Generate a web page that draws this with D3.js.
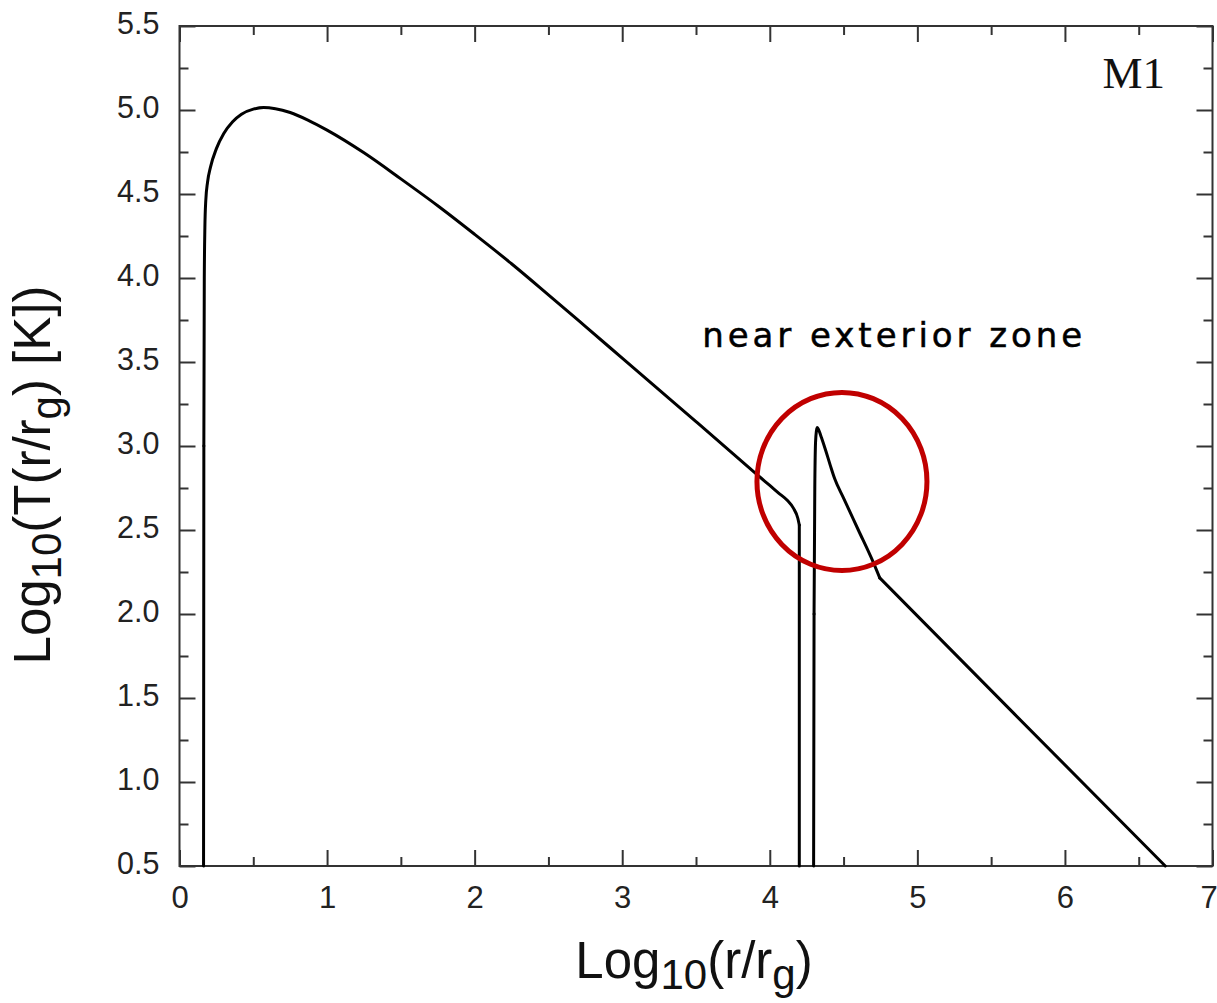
<!DOCTYPE html>
<html>
<head>
<meta charset="utf-8">
<script src="https://cdn.jsdelivr.net/npm/d3@7"></script>
<style>
  body { margin: 0; background: #fff; }
  svg { display: block; }
</style>
</head>
<body>
<svg id="chart" width="1217" height="1003"></svg>
<script>
// Axis ticks
const xMajorTicks = [0, 1, 2, 3, 4, 5, 6, 7];
const xMinorTicks = [0.5, 1.5, 2.5, 3.5, 4.5, 5.5, 6.5];
const yMajorTicks = [0.5, 1.0, 1.5, 2.0, 2.5, 3.0, 3.5, 4.0, 4.5, 5.0, 5.5];
const yMinorTicks = [0.75, 1.25, 1.75, 2.25, 2.75, 3.25, 3.75, 4.25, 4.75, 5.25];

// Inner disk temperature profile: log10(r/rg) vs log10(T)
const innerLogR = [0.163, 0.165, 0.168, 0.172, 0.178, 0.19, 0.21, 0.25, 0.30, 0.36, 0.42, 0.50, 0.57,
  0.65, 0.75, 0.87, 1.00, 1.25, 1.50, 1.75, 2.00, 2.25, 2.50, 2.75, 3.00, 3.25, 3.50, 3.75,
  3.90, 4.00, 4.06, 4.12, 4.16, 4.19, 4.20, 4.20];
const innerLogT = [0.5, 3.0, 4.0, 4.3, 4.46, 4.57, 4.66, 4.77, 4.86, 4.93, 4.975, 5.005, 5.015,
  5.008, 4.985, 4.94, 4.88, 4.745, 4.59, 4.43, 4.26, 4.085, 3.90, 3.712, 3.523, 3.334, 3.145, 2.955,
  2.84, 2.765, 2.72, 2.675, 2.63, 2.57, 2.53, 0.5];

// Near exterior zone and outer disk
const outerLogR = [4.297, 4.300, 4.305, 4.310, 4.316, 4.322, 4.332, 4.35, 4.38, 4.41, 4.44,
  4.50, 4.60, 4.70, 4.745, 5.652, 6.68];
const outerLogT = [0.5, 2.0, 2.75, 3.02, 3.09, 3.11, 3.095, 3.05, 2.97, 2.885, 2.805,
  2.69, 2.50, 2.31, 2.215, 1.41, 0.5];

const modelLabel = "M1";
const zoneLabel = "near exterior zone";

const svg = d3.select("#chart");
const plotLeft = 179.5, plotRight = 1212.5, plotTop = 26, plotBottom = 866;

const x = d3.scaleLinear().domain([0, 7]).range([plotLeft, plotRight]);
const y = d3.scaleLinear().domain([0.5, 5.5]).range([plotBottom, plotTop]);

const axisColor = "#333";
const tickFont = "'Liberation Sans', Arial, Helvetica, sans-serif";

function styleAxis(g) {
  g.select(".domain").remove();
  g.selectAll(".tick line").attr("stroke", axisColor).attr("stroke-width", 2);
  g.selectAll(".tick text").attr("fill", "#222").attr("font-family", tickFont);
}

// Bottom axis with labels
svg.append("g")
  .attr("transform", `translate(0,${plotBottom})`)
  .call(d3.axisBottom(x).tickValues(xMajorTicks).tickFormat(d3.format("d"))
    .tickSizeInner(-16).tickSizeOuter(0).tickPadding(20))
  .call(styleAxis)
  .call(g => g.selectAll(".tick text").attr("font-size", 31))
  // keep the last label inside the page edge
  .call(g => g.selectAll(".tick text").filter(d => d === 7).attr("dx", -4));

svg.append("g")
  .attr("transform", `translate(0,${plotBottom})`)
  .call(d3.axisBottom(x).tickValues(xMinorTicks).tickFormat("").tickSizeInner(-9).tickSizeOuter(0))
  .call(styleAxis);

// Top axis (ticks only)
svg.append("g")
  .attr("transform", `translate(0,${plotTop})`)
  .call(d3.axisTop(x).tickValues(xMajorTicks).tickFormat("").tickSizeInner(-16).tickSizeOuter(0))
  .call(styleAxis);
svg.append("g")
  .attr("transform", `translate(0,${plotTop})`)
  .call(d3.axisTop(x).tickValues(xMinorTicks).tickFormat("").tickSizeInner(-9).tickSizeOuter(0))
  .call(styleAxis);

// Left axis with labels
svg.append("g")
  .attr("transform", `translate(${plotLeft},0)`)
  .call(d3.axisLeft(y).tickValues(yMajorTicks).tickFormat(d3.format(".1f"))
    .tickSizeInner(-16).tickSizeOuter(0).tickPadding(20))
  .call(styleAxis)
  .call(g => g.selectAll(".tick text").attr("font-size", 30.5).attr("dy", "0.26em"));
svg.append("g")
  .attr("transform", `translate(${plotLeft},0)`)
  .call(d3.axisLeft(y).tickValues(yMinorTicks).tickFormat("").tickSizeInner(-9).tickSizeOuter(0))
  .call(styleAxis);

// Right axis (ticks only)
svg.append("g")
  .attr("transform", `translate(${plotRight},0)`)
  .call(d3.axisRight(y).tickValues(yMajorTicks).tickFormat("").tickSizeInner(-16).tickSizeOuter(0))
  .call(styleAxis);
svg.append("g")
  .attr("transform", `translate(${plotRight},0)`)
  .call(d3.axisRight(y).tickValues(yMinorTicks).tickFormat("").tickSizeInner(-9).tickSizeOuter(0))
  .call(styleAxis);

// Plot frame
svg.append("rect")
  .attr("x", plotLeft).attr("y", plotTop)
  .attr("width", plotRight - plotLeft).attr("height", plotBottom - plotTop)
  .attr("fill", "none").attr("stroke", axisColor).attr("stroke-width", 2);

// Temperature curves: vertical edges and straight runs are drawn linearly,
// the rounded parts with a monotone cubic through the points.
const smooth = d3.line().x(d => x(d[0])).y(d => y(d[1])).curve(d3.curveMonotoneX);
const straight = d3.line().x(d => x(d[0])).y(d => y(d[1]));

function pieces(rs, ts, ranges) {
  const pts = rs.map((r, i) => [r, ts[i]]);
  return ranges.map(([a, b, kind]) => ({ pts: pts.slice(a, b + 1), kind }));
}

const innerPieces = pieces(innerLogR, innerLogT, [
  [0, 1, "straight"], [1, innerLogR.length - 2, "smooth"],
  [innerLogR.length - 2, innerLogR.length - 1, "straight"]
]);
const kink = outerLogR.indexOf(4.745);
const outerPieces = pieces(outerLogR, outerLogT, [
  [0, 1, "straight"], [1, kink, "smooth"], [kink, outerLogR.length - 1, "straight"]
]);

svg.append("g")
  .selectAll("path")
  .data(innerPieces.concat(outerPieces))
  .join("path")
  .attr("d", d => (d.kind === "smooth" ? smooth : straight)(d.pts))
  .attr("fill", "none")
  .attr("stroke", "#000")
  .attr("stroke-width", 3)
  .attr("stroke-linejoin", "round")
  .attr("stroke-linecap", "round");

// Axis titles with subscripts
function titleWithSubs(sel, parts, size, subSize, shift) {
  parts.forEach(p => {
    const t = sel.append("tspan").text(p.text);
    if (p.sub) {
      t.attr("font-size", subSize).attr("dy", shift);
    } else {
      t.attr("font-size", size);
    }
    if (p.after) t.attr("dy", -shift);
  });
}

const xTitle = svg.append("text")
  .attr("x", 694).attr("y", 978)
  .attr("text-anchor", "middle")
  .attr("font-family", tickFont)
  .attr("fill", "#111");
titleWithSubs(xTitle, [
  { text: "Log" }, { text: "10", sub: true }, { text: "(r/r", after: true },
  { text: "g", sub: true }, { text: ")", after: true }
], 51, 42, 11);

const yTitle = svg.append("text")
  .attr("transform", "translate(50,475) rotate(-90)")
  .attr("text-anchor", "middle")
  .attr("font-family", tickFont)
  .attr("fill", "#111");
titleWithSubs(yTitle, [
  { text: "Log" }, { text: "10", sub: true }, { text: "(T(r/r", after: true },
  { text: "g", sub: true }, { text: ") [K])", after: true }
], 51, 42, 11);

// Model label
svg.append("text")
  .attr("x", 1165).attr("y", 88)
  .attr("text-anchor", "end")
  .attr("font-family", "'Liberation Serif', 'Times New Roman', serif")
  .attr("font-size", 45)
  .attr("fill", "#111")
  .text(modelLabel);

// Highlight of the near exterior zone
svg.append("ellipse")
  .attr("cx", x(4.489)).attr("cy", y(2.789))
  .attr("rx", x(4.489 + 0.576) - x(4.489))
  .attr("ry", y(2.789) - y(2.789 + 0.53))
  .attr("fill", "none")
  .attr("stroke", "#c00000")
  .attr("stroke-width", 5);

svg.append("text")
  .attr("x", x(3.542)).attr("y", y(3.591))
  .attr("font-family", "'DejaVu Sans', sans-serif")
  .attr("font-size", 34)
  .attr("textLength", 380)
  .attr("lengthAdjust", "spacing")
  .attr("fill", "#000")
  .attr("stroke", "#000")
  .attr("stroke-width", 0.5)
  .text(zoneLabel);
</script>
</body>
</html>
